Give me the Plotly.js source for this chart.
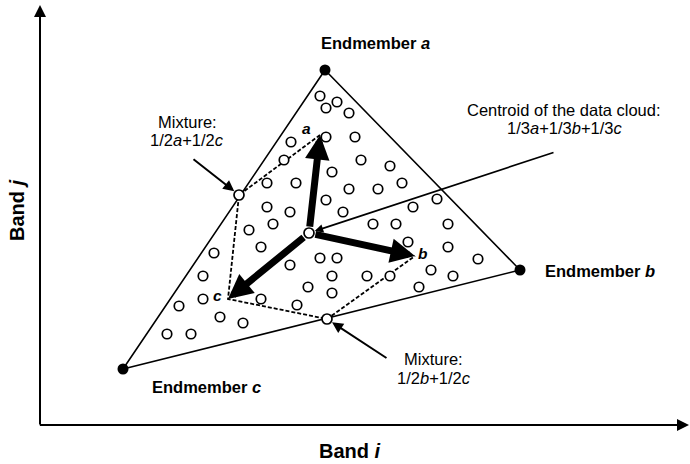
<!DOCTYPE html>
<html>
<head>
<meta charset="utf-8">
<script src="https://cdn.plot.ly/plotly-3.0.1.min.js"></script>
<style>html,body{margin:0;padding:0;background:#fff;}#chart{width:690px;height:464px;}</style>
</head>
<body>
<div id="chart"></div>
<script>
// ---- data (Band i, Band j feature space units) ----
const endmemberNames = ['a', 'b', 'c'];
const endmemberX = [285, 480, 83];
const endmemberY = [355, 155, 56];

const centroidX = [269];
const centroidY = [192];

// mixtures: 1/2a+1/2c, 1/2b+1/2c
const mixtureX = [199, 287];
const mixtureY = [230, 106];

// arrow tips (vectors from centroid towards a, b, c)
const vectorTipX = [280, 375, 188];
const vectorTipY = [290, 169, 126];

// end of the centroid call-out line
const centroidLineEndX = 515;
const centroidLineEndY = 273;

// pixel (data cloud) observations
const pixelX = [280, 286, 297, 309, 286, 315, 251, 244, 321, 350, 292, 227, 256, 309, 338, 362, 286, 397, 303, 227,
                250, 233, 209, 221, 373, 333, 356, 408, 368, 408, 280, 297, 250, 292, 327, 350, 391, 413, 268, 292,
                379, 221, 257, 174, 163, 163, 139, 180, 203, 127, 151, 438];
const pixelY = [329, 317, 323, 312, 288, 288, 283, 265, 265, 259, 253, 242, 242, 236, 236, 242, 225, 226, 213, 218,
                213, 201, 195, 178, 218, 201, 201, 201, 183, 178, 167, 167, 160, 149, 149, 149, 155, 149, 138, 132,
                138, 126, 120, 172, 149, 126, 119, 108, 102, 91, 91, 166];

const FONT = 'Arial, "Liberation Sans", sans-serif';

const traces = [
  { // simplex edges
    x: [endmemberX[0], endmemberX[1], endmemberX[2], endmemberX[0]],
    y: [endmemberY[0], endmemberY[1], endmemberY[2], endmemberY[0]],
    mode: 'lines', line: {color: '#000', width: 1.6}, hoverinfo: 'skip'
  },
  { // dashed parallelogram: tip a -> mix ac -> tip c -> mix bc -> tip b
    x: [vectorTipX[0], mixtureX[0], vectorTipX[2], mixtureX[1], vectorTipX[1]],
    y: [vectorTipY[0], mixtureY[0], vectorTipY[2], mixtureY[1], vectorTipY[1]],
    mode: 'lines', line: {color: '#000', width: 1.8, dash: '4px,2px'}, hoverinfo: 'skip'
  },
  { // data cloud
    x: pixelX, y: pixelY, mode: 'markers',
    marker: {size: 9.5, color: '#fff', line: {color: '#000', width: 1.7}}
  },
  { // mixtures & centroid
    x: mixtureX.concat(centroidX), y: mixtureY.concat(centroidY), mode: 'markers',
    marker: {size: 10, color: '#fff', line: {color: '#000', width: 1.7}}
  },
  { // endmembers
    x: endmemberX, y: endmemberY, mode: 'markers', text: endmemberNames,
    marker: {size: 11, color: '#000'}
  }
];

const annotations = [];

// axes arrows
annotations.push({xref: 'paper', yref: 'paper', x: 0, y: 0.988, ax: 0, ay: 421, text: '',
  showarrow: true, arrowhead: 2, arrowsize: 1.2, arrowwidth: 2, arrowcolor: '#000'});
annotations.push({xref: 'paper', yref: 'paper', x: 0.999, y: 0, ax: -651, ay: 0, text: '',
  showarrow: true, arrowhead: 2, arrowsize: 1.2, arrowwidth: 2, arrowcolor: '#000'});

// axis titles
annotations.push({xref: 'paper', yref: 'paper', x: 0.477, y: 0, yshift: -26, xanchor: 'center', yanchor: 'middle',
  showarrow: false, text: '<b>Band <i>i</i></b>', font: {family: FONT, size: 20, color: '#000'}});
annotations.push({xref: 'paper', yref: 'paper', x: 0, xshift: -23, y: 0.506, xanchor: 'center', yanchor: 'middle',
  showarrow: false, textangle: -90, text: '<b>Band <i>j</i></b>', font: {family: FONT, size: 20, color: '#000'}});

// thick vectors from centroid
for (let k = 0; k < 3; k++) {
  annotations.push({x: vectorTipX[k], y: vectorTipY[k], ax: centroidX[0], ay: centroidY[0],
    axref: 'x', ayref: 'y', text: '', showarrow: true, arrowhead: 2, arrowsize: 0.7,
    arrowwidth: 7, arrowcolor: '#000', startstandoff: 5});
}

// centroid call-out line
annotations.push({x: centroidX[0], y: centroidY[0], ax: centroidLineEndX, ay: centroidLineEndY,
  axref: 'x', ayref: 'y', text: '', showarrow: true, arrowhead: 2, arrowsize: 1,
  arrowwidth: 1.7, arrowcolor: '#000', standoff: 6});

// pointer arrows to mixtures
annotations.push({x: mixtureX[0], y: mixtureY[0], ax: 152, ay: 267, axref: 'x', ayref: 'y', text: '',
  showarrow: true, arrowhead: 2, arrowsize: 1.1, arrowwidth: 2, arrowcolor: '#000', standoff: 6});
annotations.push({x: mixtureX[1], y: mixtureY[1], ax: 348, ay: 66, axref: 'x', ayref: 'y', text: '',
  showarrow: true, arrowhead: 2, arrowsize: 1.1, arrowwidth: 2, arrowcolor: '#000', standoff: 6});

// text labels
function label(x, y, text, opts) {
  annotations.push(Object.assign({x: x, y: y, text: text, showarrow: false,
    font: {family: FONT, size: 16.5, color: '#000'}}, opts || {}));
}
label(335, 382, '<b>Endmember <i>a</i></b>');
label(503, 154, '<b>Endmember <i>b</i></b>', {xanchor: 'left'});
label(166, 38, '<b>Endmember <i>c</i></b>');
label(147, 303, 'Mixture:');
label(147, 285, '1/2<i>a</i>+1/2<i>c</i>');
label(524, 315, 'Centroid of the data cloud:');
label(524, 297, '1/3<i>a</i>+1/3<i>b</i>+1/3<i>c</i>');
label(393, 66, 'Mixture:');
label(394, 47, '1/2<i>b</i>+1/2<i>c</i>');
label(266, 297, '<b><i>a</i></b>', {font: {family: FONT, size: 15.5, color: '#000'}});
label(383, 172, '<b><i>b</i></b>', {font: {family: FONT, size: 15.5, color: '#000'}});
label(177, 130, '<b><i>c</i></b>', {font: {family: FONT, size: 15.5, color: '#000'}});

const layout = {
  width: 690, height: 464,
  margin: {l: 40, r: 0, t: 0, b: 39, pad: 0},
  paper_bgcolor: '#fff', plot_bgcolor: '#fff',
  showlegend: false,
  xaxis: {range: [0, 650], showgrid: false, zeroline: false, showticklabels: false, ticks: '', showline: false, fixedrange: true},
  yaxis: {range: [0, 425], showgrid: false, zeroline: false, showticklabels: false, ticks: '', showline: false, fixedrange: true},
  annotations: annotations
};

Plotly.newPlot('chart', traces, layout, {displayModeBar: false, staticPlot: true});
</script>
</body>
</html>
